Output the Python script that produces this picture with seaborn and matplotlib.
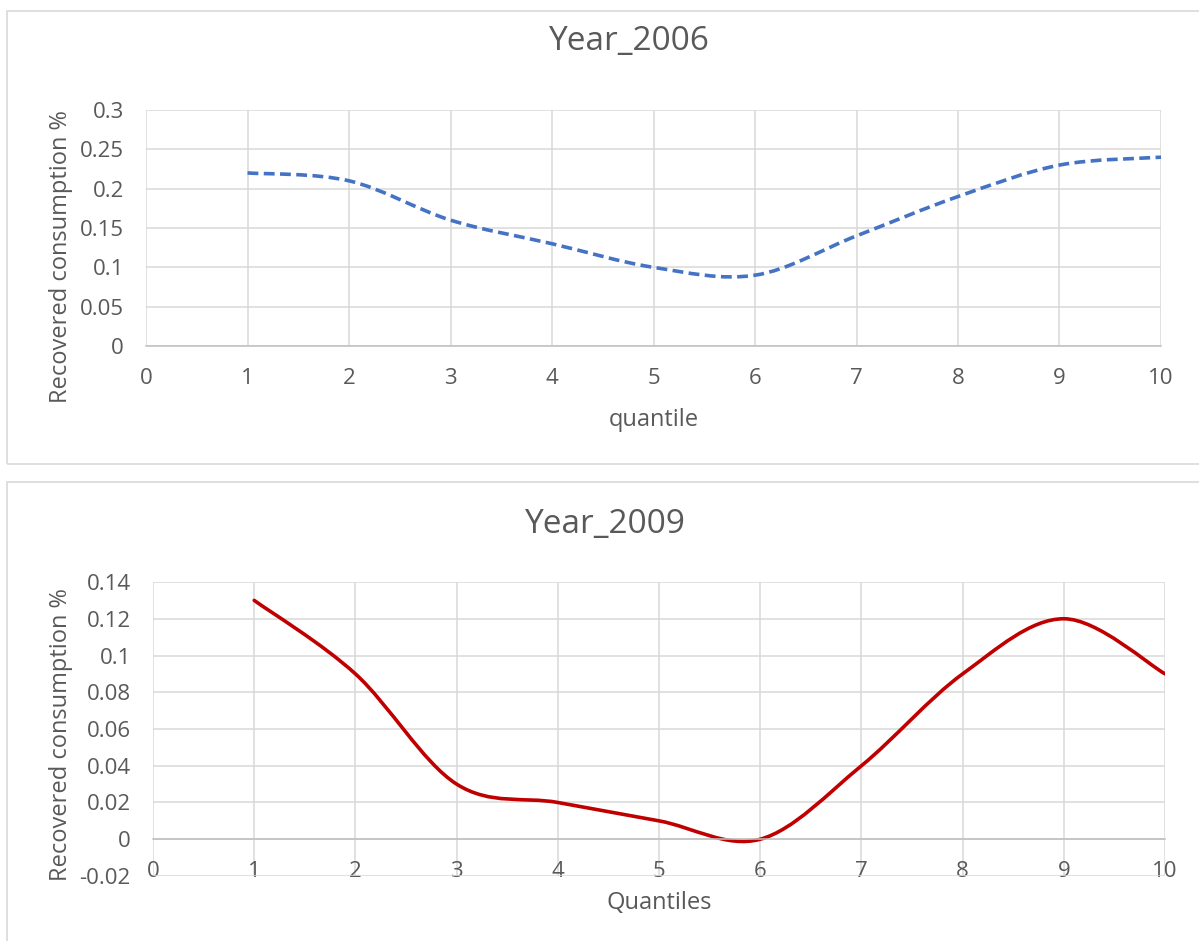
import numpy as np
import seaborn as sns
import matplotlib.pyplot as plt
from matplotlib.path import Path
from matplotlib.patches import PathPatch, Rectangle

# data
quantiles = [1, 2, 3, 4, 5, 6, 7, 8, 9, 10]
year_2006 = [0.22, 0.21, 0.16, 0.13, 0.10, 0.09, 0.14, 0.19, 0.23, 0.24]
year_2009 = [0.13, 0.09, 0.03, 0.02, 0.01, 0.00, 0.04, 0.09, 0.12, 0.09]

xticks = [0, 1, 2, 3, 4, 5, 6, 7, 8, 9, 10]
yticks_2006 = [0, 0.05, 0.1, 0.15, 0.2, 0.25, 0.3]
ylabels_2006 = ['0', '0.05', '0.1', '0.15', '0.2', '0.25', '0.3']
yticks_2009 = [-0.02, 0, 0.02, 0.04, 0.06, 0.08, 0.1, 0.12, 0.14]
ylabels_2009 = ['-0.02', '0', '0.02', '0.04', '0.06', '0.08', '0.1', '0.12', '0.14']

sns.set_theme(style='white')
plt.rcParams['font.family'] = ['Open Sans', 'DejaVu Sans']
txt = '#595959'
grid_c = '#d9d9d9'


def smooth_path(x, y):
    # Excel-like smoothed line: cubic bezier through the points (catmull-rom tangents)
    x = np.asarray(x, float)
    y = np.asarray(y, float)
    n = len(x)
    verts = [(x[0], y[0])]
    codes = [Path.MOVETO]
    for i in range(n - 1):
        i0 = max(i - 1, 0)
        i3 = min(i + 2, n - 1)
        c1 = (x[i] + (x[i + 1] - x[i0]) / 6, y[i] + (y[i + 1] - y[i0]) / 6)
        c2 = (x[i + 1] - (x[i3] - x[i]) / 6, y[i + 1] - (y[i3] - y[i]) / 6)
        verts += [c1, c2, (x[i + 1], y[i + 1])]
        codes += [Path.CURVE4] * 3
    return Path(verts, codes)


fig = plt.figure(figsize=(11.99, 9.41), dpi=100)

# chart frames
fig.patches.append(Rectangle((0.0058, 0.5069), 1.1, 0.4814, transform=fig.transFigure,
                             fill=False, edgecolor=grid_c, lw=1.2))
fig.patches.append(Rectangle((0.0058, -0.1), 1.1, 0.5878, transform=fig.transFigure,
                             fill=False, edgecolor=grid_c, lw=1.2))

ax1 = fig.add_axes([0.1218, 0.6323, 0.8465, 0.2508])
ax2 = fig.add_axes([0.1276, 0.0691, 0.8441, 0.3124])


def style_axes(ax, yticks, ylabels, ylim, xlabel, ylab_x, ylab_y, xlab_y):
    ax.set_xlim(0, 10)
    ax.set_ylim(*ylim)
    ax.set_xticks(xticks)
    ax.set_yticks(yticks)
    ax.set_yticklabels(ylabels)
    ax.grid(True, color=grid_c, lw=1.1)
    ax.set_axisbelow(True)
    for s in ['top', 'right', 'left']:
        ax.spines[s].set_visible(False)
    ax.spines['bottom'].set_position(('data', 0))
    ax.spines['bottom'].set_color('#bfbfbf')
    ax.spines['bottom'].set_linewidth(1.1)
    ax.tick_params(axis='x', length=0, pad=16, labelsize=16, colors=txt)
    ax.tick_params(axis='y', length=0, pad=16, labelsize=16, colors=txt)
    ax.set_xlabel(xlabel, fontsize=17, color=txt)
    ax.set_ylabel('Recovered consumption %', fontsize=17, color=txt)
    ax.xaxis.set_label_coords(0.5, xlab_y)
    ax.yaxis.set_label_coords(ylab_x, ylab_y)


style_axes(ax1, yticks_2006, ylabels_2006, (0, 0.3), 'quantile', -0.072, 0.38, -0.262)
style_axes(ax2, yticks_2009, ylabels_2009, (-0.02, 0.14), 'Quantiles', -0.079, 0.48, -0.05)

ax1.add_patch(PathPatch(smooth_path(quantiles, year_2006), fill=False, edgecolor='#4472C4',
                        lw=2.6, linestyle=(0, (3.0, 1.5)), capstyle='butt'))
ax2.add_patch(PathPatch(smooth_path(quantiles, year_2009), fill=False, edgecolor='#C00000',
                        lw=2.6, capstyle='round'))

fig.text(0.525, 0.9554, 'Year_2006', ha='center', va='center', fontsize=24, color=txt)
fig.text(0.505, 0.4421, 'Year_2009', ha='center', va='center', fontsize=24, color=txt)

plt.savefig('out.png', dpi=100)
